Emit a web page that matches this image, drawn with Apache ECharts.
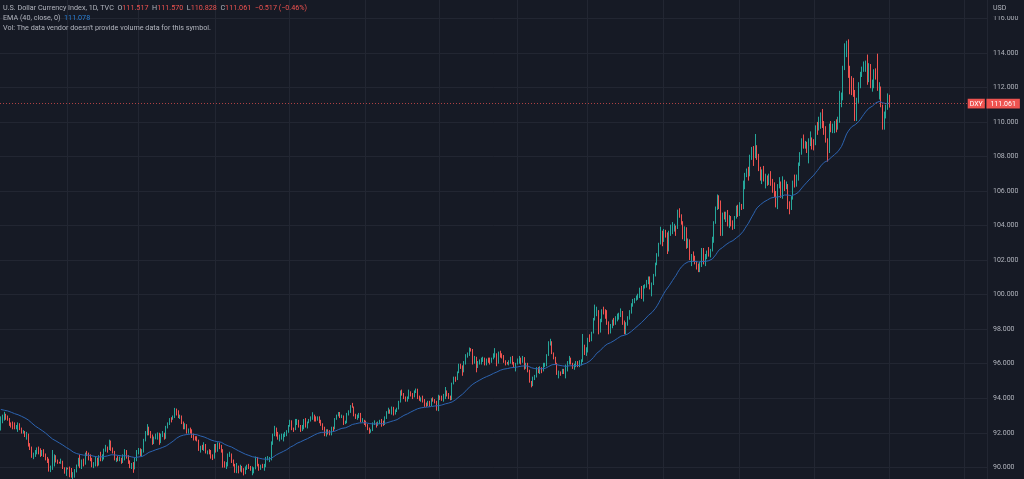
<!DOCTYPE html>
<html>
<head>
<meta charset="utf-8">
<title>DXY 1D</title>
<script src="https://cdn.jsdelivr.net/npm/echarts@6.0.0/dist/echarts.min.js"></script>
<style>
html,body{margin:0;padding:0;background:#161a25;}
#chart{width:1024px;height:479px;}
</style>
</head>
<body>
<div id="chart"></div>
<script>
// daily candles, [open, high, low, close], one row per weekday from 2020-11-09
const bars2020 = [
  [92.23,92.95,92.13,92.73],[92.73,93.05,92.55,92.75],[92.75,93.21,92.70,93.00],[93.00,93.10,92.75,92.97],[92.97,93.00,92.70,92.76],
  [92.76,92.85,92.40,92.53],[92.53,92.60,92.30,92.45],[92.45,92.65,92.20,92.32],[92.32,92.60,92.20,92.28],[92.28,92.45,92.20,92.39],
  [92.39,92.60,92.05,92.50],[92.50,92.55,92.15,92.23],[92.23,92.30,91.95,92.00],[92.00,92.15,91.95,92.08],[92.08,92.10,91.75,91.80],
  [91.80,92.05,91.60,91.87],[91.87,91.95,91.20,91.30],[91.30,91.40,91.00,91.12],[91.12,91.20,90.55,90.70],[90.70,90.85,90.47,90.70],
  [90.70,91.00,90.60,90.80],[90.80,91.15,90.75,91.05],[91.05,91.20,90.75,90.95],[90.95,91.10,90.60,90.78],[90.78,91.00,90.65,90.98],
  [90.98,91.05,90.60,90.72],[90.72,90.80,90.40,90.48],[90.48,90.60,90.25,90.45],[90.45,90.50,89.75,89.82],[89.82,90.10,89.72,90.02],
  [90.02,91.00,89.85,90.10],[90.10,90.75,90.05,90.62],[90.62,90.70,90.28,90.35],[90.35,90.45,90.20,90.27],[90.27,90.32,90.22,90.25],
  [90.25,90.50,90.20,90.33],[90.33,90.38,89.90,89.97],[89.97,90.00,89.63,89.70],[89.70,90.00,89.50,89.94]
];
const bars2021 = [
  [89.94,89.98,89.88,89.93],
  [89.93,90.04,89.42,89.88],[89.88,89.96,89.40,89.43],[89.43,89.72,89.21,89.53],[89.53,89.90,89.40,89.83],[89.83,90.16,89.70,90.10],
  [90.10,90.55,90.05,90.51],[90.51,90.73,89.95,90.09],[90.09,90.45,89.90,90.37],[90.37,90.50,90.05,90.23],[90.23,90.85,90.15,90.77],
  [90.77,90.95,90.65,90.75],[90.75,90.85,90.40,90.52],[90.52,90.75,90.35,90.48],[90.48,90.55,90.00,90.10],[90.10,90.30,89.95,90.24],
  [90.24,90.60,90.05,90.38],[90.38,90.55,90.05,90.17],[90.17,90.70,90.10,90.65],[90.65,90.90,90.35,90.48],[90.48,90.75,90.35,90.58],
  [90.58,91.08,90.45,91.00],[91.00,91.30,90.90,91.12],[91.12,91.20,90.85,91.08],[91.08,91.60,91.00,91.53],[91.53,91.55,90.95,91.03],
  [91.03,91.15,90.80,90.93],[90.93,90.95,90.40,90.42],[90.42,90.55,90.30,90.43],[90.43,90.65,90.35,90.42],[90.42,90.62,90.35,90.48],
  [90.48,90.55,90.20,90.35],[90.35,90.75,90.25,90.50],[90.50,91.05,90.40,90.92],[90.92,91.00,90.50,90.58],[90.58,90.70,90.20,90.35],
  [90.35,90.40,89.95,90.12],[90.12,90.25,89.90,90.13],[90.13,90.30,89.68,89.98],[89.98,90.55,89.88,90.45],[90.45,91.00,90.35,90.88],
  [90.88,91.12,90.75,91.02],[91.02,91.10,90.65,90.80],[90.80,91.05,90.60,90.92],[90.92,91.65,90.85,91.60],[91.60,92.10,91.50,91.92],
  [91.92,92.50,91.85,92.34],[92.34,92.35,91.85,91.95],[91.95,92.10,91.68,91.82],[91.82,91.90,91.30,91.42],[91.42,91.78,91.35,91.67],
  [91.67,91.95,91.62,91.85],[91.85,92.02,91.60,91.90],[91.90,92.00,91.30,91.45],[91.45,91.95,91.40,91.85],[91.85,92.10,91.75,91.92],
  [91.92,92.00,91.60,91.70],[91.70,92.40,91.65,92.33],[92.33,92.60,92.25,92.52],[92.52,92.85,92.45,92.78],[92.78,92.90,92.60,92.75],
  [92.75,93.00,92.75,92.93],[92.93,93.44,92.85,93.30],[93.30,93.40,93.00,93.23],[93.23,93.30,92.85,92.93],[92.93,93.05,92.80,92.98],
  [92.98,93.00,92.50,92.60],[92.60,92.65,92.20,92.32],[92.32,92.55,92.20,92.45],[92.45,92.50,91.95,92.05],[92.05,92.25,91.95,92.16],
  [92.16,92.30,91.95,92.13],[92.13,92.20,91.70,91.85],[91.85,91.95,91.55,91.70],[91.70,91.80,91.55,91.66],[91.66,91.80,91.50,91.55],
  [91.55,91.60,90.95,91.05],[91.05,91.25,90.85,91.22],[91.22,91.30,91.00,91.18],[91.18,91.45,90.95,91.30],[91.30,91.35,90.80,90.85],
  [90.85,90.98,90.75,90.87],[90.87,91.05,90.75,90.81],[90.81,91.00,90.50,90.62],[90.62,90.75,90.42,90.58],[90.58,91.35,90.50,91.28],
  [91.28,91.35,90.85,90.96],[90.96,91.45,90.90,91.30],[91.30,91.43,91.05,91.28],[91.28,91.30,90.85,90.98],[90.98,91.05,89.98,90.22],
  [90.22,90.35,89.98,90.10],[90.10,90.30,89.90,90.12],[90.12,90.80,90.05,90.72],[90.72,90.90,90.60,90.75],[90.75,90.80,90.25,90.32],
  [90.32,90.45,90.05,90.18],[90.18,90.20,89.68,89.82],[89.82,90.25,89.66,90.08],[90.08,90.10,89.65,89.78],[89.78,90.15,89.75,90.02],
  [90.02,90.08,89.70,89.82],[89.82,89.95,89.53,89.66],[89.66,90.05,89.60,89.98],[89.98,90.15,89.85,90.05],[90.05,90.20,89.90,90.03],
  [90.03,90.08,89.80,89.88],[89.88,90.05,89.54,89.90],[89.90,90.00,89.65,89.92],[89.92,90.62,89.88,90.52],[90.52,90.60,90.05,90.13],
  [90.13,90.20,89.80,90.00],[90.00,90.15,89.85,90.10],[90.10,90.20,89.95,90.07],[90.07,90.20,89.80,90.08],[90.08,90.60,90.00,90.52],
  [90.52,90.65,90.40,90.52],[90.52,90.60,90.30,90.53],[90.53,91.50,90.40,91.40],[91.40,91.95,91.30,91.90],[91.90,92.40,91.80,92.22],
  [92.22,92.30,91.78,91.90],[91.90,92.05,91.60,91.75],[91.75,91.90,91.50,91.80],[91.80,91.95,91.60,91.82],[91.82,91.95,91.50,91.85],
  [91.85,92.05,91.75,91.90],[91.90,92.15,91.80,92.05],[92.05,92.45,92.00,92.43],[92.43,92.75,92.35,92.56],[92.56,92.72,92.15,92.23],
  [92.23,92.30,92.05,92.22],[92.22,92.80,92.15,92.57],[92.57,92.80,92.45,92.65],[92.65,92.75,92.30,92.40],[92.40,92.45,92.05,92.12],
  [92.12,92.45,92.10,92.25],[92.25,92.80,92.20,92.75],[92.75,92.85,92.30,92.38],[92.38,92.65,92.25,92.58],[92.58,92.80,92.55,92.70],
  [92.70,92.95,92.65,92.85],[92.85,93.19,92.75,92.95],[92.95,93.05,92.65,92.80],[92.80,92.95,92.65,92.78],[92.78,92.95,92.70,92.90],
  [92.90,92.95,92.55,92.65],[92.65,92.75,92.40,92.48],[92.48,92.55,92.15,92.30],[92.30,92.35,91.80,91.90],[91.90,92.20,91.78,92.17],
  [92.17,92.20,91.90,92.05],[92.05,92.15,91.85,92.03],[92.03,92.35,91.85,92.28],[92.28,92.35,92.05,92.25],[92.25,92.85,92.20,92.80],
  [92.80,93.05,92.75,93.02],[93.02,93.20,92.95,93.05],[93.05,93.20,92.85,92.92],[92.92,93.05,92.85,92.97],[92.97,93.00,92.45,92.53],
  [92.53,92.70,92.50,92.62],[92.62,93.15,92.55,93.10],[93.10,93.30,93.00,93.21],[93.21,93.60,93.15,93.55],[93.55,93.73,93.45,93.50],
  [93.50,93.52,92.95,93.00],[93.00,93.10,92.80,92.88],[92.88,93.05,92.75,92.95],[92.95,93.15,92.85,93.05],[93.05,93.15,92.60,92.65],
  [92.65,92.85,92.60,92.68],[92.68,92.75,92.45,92.63],[92.63,92.70,92.35,92.45],[92.45,92.50,92.15,92.22],[92.22,92.30,91.94,92.05],
  [92.05,92.20,92.00,92.13],[92.13,92.60,92.10,92.52],[92.52,92.72,92.45,92.55],[92.55,92.60,92.30,92.48],[92.48,92.65,92.40,92.58],
  [92.58,92.75,92.50,92.65],[92.65,92.80,92.35,92.60],[92.60,92.70,92.40,92.50],[92.50,92.95,92.45,92.85],[92.85,93.25,92.80,93.20],
  [93.20,93.45,93.10,93.25],[93.25,93.35,93.10,93.22],[93.22,93.52,93.05,93.45],[93.45,93.50,93.00,93.12],[93.12,93.35,93.05,93.30],
  [93.30,93.45,93.20,93.40],[93.40,93.85,93.35,93.80],[93.80,94.45,93.75,94.35],[94.35,94.50,94.15,94.23],[94.23,94.30,93.95,94.05],
  [94.05,94.10,93.80,93.85],[93.85,94.10,93.80,94.00],[94.00,94.50,93.95,94.25],[94.25,94.40,94.10,94.22],[94.22,94.30,93.95,94.10],
  [94.10,94.45,94.05,94.35],[94.35,94.56,94.30,94.50],[94.50,94.55,93.95,94.05],[94.05,94.15,93.85,93.95],[93.95,94.05,93.80,93.96],
  [93.96,94.15,93.75,93.90],[93.90,93.95,93.50,93.60],[93.60,93.75,93.50,93.58],[93.58,93.85,93.55,93.80],[93.80,93.85,93.50,93.60],
  [93.60,94.00,93.55,93.95],[93.95,94.05,93.80,93.90],[93.90,93.95,93.70,93.80],[93.80,93.85,93.28,93.32],[93.32,94.20,93.25,94.12],
  [94.12,94.15,93.90,94.05],[94.05,94.15,93.85,93.90],[93.90,94.25,93.80,94.20],[94.20,94.65,93.95,94.40],[94.40,94.45,94.10,94.28],
  [94.28,94.30,93.95,94.05],[94.05,94.15,93.88,93.95],[93.95,94.90,93.90,94.85],[94.85,95.25,94.80,95.15],[95.15,95.25,94.95,95.12],
  [95.12,95.55,95.05,95.50],[95.50,96.00,95.45,95.85],[95.85,96.00,95.70,95.80],[95.80,95.90,95.30,95.55],[95.55,96.15,95.50,96.05],
  [96.05,96.55,95.95,96.50],[96.50,96.65,96.35,96.50],[96.50,96.94,96.45,96.85],[96.85,96.90,96.70,96.80],[96.80,96.85,95.95,96.05],
  [96.05,96.45,96.00,96.35],[96.35,96.40,95.50,95.95],[95.95,96.15,95.75,96.05],[96.05,96.25,95.95,96.15],[96.15,96.35,95.95,96.18],
  [96.18,96.40,96.10,96.28],[96.28,96.35,95.90,96.00],[96.00,96.30,95.90,96.20],[96.20,96.35,96.05,96.15],[96.15,96.35,95.95,96.10],
  [96.10,96.35,96.05,96.30],[96.30,96.60,96.25,96.55],[96.55,96.90,96.35,96.58],[96.58,96.60,95.85,96.05],[96.05,96.70,96.00,96.65],
  [96.65,96.75,96.35,96.50],[96.50,96.60,96.30,96.48],[96.48,96.50,96.05,96.10],[96.10,96.20,95.90,96.02],[96.02,96.10,95.95,96.00],
  [96.00,96.20,95.90,96.08],[96.08,96.40,96.00,96.35],[96.35,96.45,95.95,96.05],[96.05,96.10,95.80,95.92],[95.92,96.05,95.55,95.97]
];
const bars2022 = [
  [95.97,96.30,95.95,96.22],[96.22,96.45,96.00,96.28],[96.28,96.35,95.95,96.18],[96.18,96.45,96.05,96.35],[96.35,96.38,95.65,95.75],
  [95.75,96.05,95.70,95.98],[95.98,96.05,95.50,95.60],[95.60,95.65,94.90,94.95],[94.95,95.00,94.63,94.78],[94.78,95.25,94.70,95.18],
  [95.18,95.35,95.05,95.25],[95.25,95.80,95.20,95.75],[95.75,95.80,95.45,95.52],[95.52,95.85,95.40,95.75],[95.75,95.80,95.45,95.62],
  [95.62,96.05,95.55,95.92],[95.92,96.05,95.80,95.95],[95.95,96.55,95.85,96.48],[96.48,97.30,96.45,97.25],[97.25,97.44,97.05,97.26],
  [97.26,97.30,96.55,96.58],[96.58,96.65,96.25,96.35],[96.35,96.40,95.95,96.02],[96.02,96.05,95.35,95.38],[95.38,95.60,95.15,95.48],
  [95.48,95.55,95.30,95.45],[95.45,95.70,95.40,95.62],[95.62,95.70,95.40,95.50],[95.50,95.95,95.15,95.60],[95.60,96.15,95.55,96.05],
  [96.05,96.45,95.95,96.30],[96.30,96.35,95.95,96.00],[96.00,96.05,95.70,95.82],[95.82,96.00,95.65,95.85],[95.85,96.15,95.80,96.05],
  [96.05,96.15,95.80,96.00],[96.00,96.20,95.80,96.02],[96.02,96.25,95.90,96.15],[96.15,97.72,96.10,97.05],[97.05,97.10,96.50,96.60],
  [96.60,96.95,96.45,96.70],[96.70,97.50,96.65,97.40],[97.40,97.70,97.25,97.38],[97.38,97.85,97.30,97.78],[97.78,98.65,97.75,98.60],
  [98.60,99.42,98.50,99.00],[99.00,99.30,98.75,99.05],[99.05,99.10,97.70,97.95],[97.95,98.60,97.80,98.50],[98.50,99.15,98.40,99.10],
  [99.10,99.30,98.85,99.00],[99.00,99.15,98.60,98.80],[98.80,99.10,98.25,98.40],[98.40,98.45,97.70,97.85],[97.85,98.30,97.75,98.20],
  [98.20,98.55,98.05,98.50],[98.50,98.65,98.20,98.35],[98.35,98.75,98.25,98.65],[98.65,98.90,98.45,98.80],[98.80,98.95,98.55,98.80],
  [98.80,99.20,98.70,98.95],[98.95,99.05,98.25,98.40],[98.40,98.50,97.70,97.80],[97.80,98.40,97.68,98.30],[98.30,98.75,98.20,98.60],
  [98.60,99.10,98.55,99.00],[99.00,99.50,98.90,99.45],[99.45,99.75,99.30,99.60],[99.60,99.80,99.50,99.75],[99.75,99.95,99.65,99.80],
  [99.80,100.05,99.70,99.90],[99.90,100.40,99.80,100.30],[100.30,100.50,99.75,99.80],[99.80,100.55,99.60,100.50],[100.50,100.60,100.35,100.50],
  [100.50,100.85,100.40,100.70],[100.70,101.05,100.60,101.00],[101.00,101.05,100.30,100.40],[100.40,100.70,99.90,100.60],[100.60,101.20,100.55,101.15],
  [101.15,101.85,101.05,101.75],[101.75,102.40,101.70,102.30],[102.30,103.00,102.20,102.95],[102.95,103.93,102.90,103.60],[103.60,103.70,102.80,103.20],
  [103.20,103.80,103.05,103.70],[103.70,103.75,103.30,103.45],[103.45,103.60,102.35,102.55],[102.55,103.70,102.50,103.55],[103.55,104.05,103.40,103.65],
  [103.65,104.20,103.50,103.90],[103.90,104.10,103.65,103.90],[103.90,104.00,103.40,103.85],[103.85,104.92,103.80,104.85],[104.85,105.00,104.45,104.55],
  [104.55,104.65,104.05,104.20],[104.20,104.25,103.20,103.35],[103.35,103.95,103.10,103.85],[103.85,103.90,102.65,102.85],[102.85,103.25,102.70,103.15],
  [103.15,103.20,102.00,102.10],[102.10,102.35,101.65,102.15],[102.15,102.50,101.90,102.10],[102.10,102.25,101.75,101.82],[101.82,101.95,101.45,101.68],
  [101.68,101.80,101.30,101.45],[101.45,101.90,101.30,101.75],[101.75,102.70,101.60,102.55],[102.55,102.70,101.75,101.80],[101.80,102.35,101.65,102.15],
  [102.15,102.55,102.05,102.40],[102.40,102.75,102.20,102.35],[102.35,102.65,102.15,102.55],[102.55,103.35,102.50,103.30],[103.30,104.25,103.00,104.15],
  [104.15,105.10,104.10,105.05],[105.05,105.80,104.90,105.50],[105.50,105.75,104.95,105.20],[105.20,105.45,103.40,103.45],[103.45,104.75,103.40,104.65],
  [104.65,104.80,104.35,104.45],[104.45,104.80,104.20,104.45],[104.45,104.90,103.95,104.20],[104.20,104.60,103.85,104.40],[104.40,104.55,103.95,104.20],
  [104.20,104.30,103.75,103.95],[103.95,104.55,103.80,104.50],[104.50,105.15,104.40,105.10],[105.10,105.20,104.50,104.70],[104.70,105.35,104.55,105.15],
  [105.15,105.25,104.90,105.10],[105.10,106.60,104.95,106.50],[106.50,107.05,106.10,107.00],[107.00,107.30,106.80,107.05],[107.05,107.40,106.60,106.90],
  [106.90,108.10,106.85,108.05],[108.05,108.55,107.80,108.10],[108.10,108.60,107.45,108.00],[108.00,109.30,107.90,108.60],[108.60,108.65,107.80,108.05],
  [108.05,108.15,107.15,107.30],[107.30,107.40,106.60,106.70],[106.70,107.25,106.40,107.10],[107.10,107.45,106.55,106.60],[106.60,107.00,106.15,106.70],
  [106.70,106.90,106.30,106.45],[106.45,107.00,106.35,106.90],[106.90,107.15,106.30,106.40],[106.40,106.70,105.90,106.25],[106.25,106.50,105.65,105.90],
  [105.90,106.00,105.05,105.35],[105.35,106.40,104.95,106.25],[106.25,106.80,106.15,106.50],[106.50,106.55,105.60,105.70],[105.70,106.85,105.55,106.60],
  [106.60,106.65,106.00,106.35],[106.35,106.55,106.10,106.35],[106.35,106.40,104.95,105.15],[105.15,105.40,104.65,105.10],[105.10,105.70,104.90,105.60],
  [105.60,106.60,105.50,106.50],[106.50,106.95,106.20,106.45],[106.45,106.95,106.25,106.70],[106.70,107.65,106.60,107.55],[107.55,108.25,107.45,108.15],
  [108.15,109.05,108.10,108.95],[108.95,109.27,108.45,108.60],[108.60,108.90,108.45,108.60],[108.60,108.85,108.20,108.55],[108.55,109.05,107.60,108.80],
  [108.80,109.45,108.60,108.80],[108.80,109.10,108.40,108.75],[108.75,109.00,108.35,108.70],[108.70,109.80,108.65,109.70],[109.70,110.00,109.25,109.55],
  [109.55,110.30,109.50,109.85],[109.85,110.55,109.60,110.25],[110.25,110.75,109.65,109.70],[109.70,110.05,109.25,109.65],[109.65,109.75,108.80,109.00],
  [109.00,109.05,107.70,108.25],[108.25,109.90,108.20,109.80],[109.80,110.05,109.40,109.60],[109.60,109.90,109.35,109.70],[109.70,110.05,109.35,109.75],
  [109.75,110.15,109.40,109.70],[109.70,110.30,109.55,110.20],[110.20,111.80,109.95,111.30],[111.30,111.70,110.85,111.35],[111.35,113.25,111.25,113.20],
  [113.20,114.55,113.00,114.10],[114.10,114.70,113.75,114.15],[114.15,114.78,112.55,112.60],[112.60,113.25,111.60,112.20],[112.20,112.65,111.55,112.10],
  [112.10,112.55,111.45,111.80],[111.80,111.85,110.05,110.20],[110.20,111.40,110.05,111.20],[111.20,112.30,111.10,112.20],[112.20,112.90,111.95,112.80],
  [112.80,113.20,112.60,113.10],[113.10,113.50,112.90,113.20],[113.20,113.55,112.90,113.25],[113.25,113.90,112.15,112.40],[112.40,113.40,112.30,113.30],
  [113.30,113.35,111.95,112.05],[112.05,112.45,111.75,112.10],[112.10,113.05,111.95,112.95],[112.95,113.10,112.45,112.85],[112.85,113.95,111.80,111.90],
  [111.90,112.30,111.30,112.00],[112.00,112.05,110.85,110.95],[110.95,111.00,109.55,109.70],[109.70,110.60,109.55,110.55],[110.55,111.00,110.20,110.75],
  [110.75,111.65,110.70,111.578],[111.517,111.570,110.828,111.061]
];
const firstDay = '2020-11-09';
const rightPadBars = 56;          // empty space right of the last candle
const emaLength = 40;
const emaSeed = 93.35;            // EMA value at the first visible candle
const emaLast = '111.078';
const yTicks = {min: 88, max: 118, step: 2};
const symbolLine = 'U.S. Dollar Currency Index, 1D, TVC';
const volNote = "Vol: The data vendor doesn't provide volume data for this symbol.";

const bg = '#161a25';
const upColor = '#26a69a';
const downColor = '#ef5350';
const textColor = '#b2b5be';
const font = 'Roboto, "Liberation Sans", sans-serif';

const bars = bars2020.concat(bars2021, bars2022);
const closes = bars.map(b => b[3]);

// weekday categories, including the empty bars on the right
const cats = [];
const d = new Date(firstDay + 'T00:00:00Z');
while (cats.length < bars.length + rightPadBars) {
    const wd = d.getUTCDay();
    if (wd !== 0 && wd !== 6) cats.push(d.toISOString().slice(0, 10));
    d.setUTCDate(d.getUTCDate() + 1);
}

const k = 2 / (emaLength + 1);
const ema = [];
closes.forEach((c, i) => {
    const prev = i === 0 ? emaSeed : ema[i - 1];
    ema.push(i === 0 ? emaSeed : +(prev + k * (c - prev)).toFixed(3));
});

const last = bars[bars.length - 1];
const prevClose = bars[bars.length - 2][3];
const chg = last[3] - prevClose;
const pct = chg / prevClose * 100;
const fmt = v => v.toFixed(3);
const signed = (v, n) => (v < 0 ? '\u2212' : '+') + Math.abs(v).toFixed(n);

const chart = echarts.init(document.getElementById('chart'));
const rich = {
    t: {color: textColor, fontSize: 7.2, fontFamily: font},
    r: {color: downColor, fontSize: 7.2, fontFamily: font},
    b: {color: '#2a7fd4', fontSize: 7.2, fontFamily: font}
};
chart.setOption({
    animation: false,
    backgroundColor: bg,
    title: [
        {
            left: 3, top: 5, padding: 0,
            text: '{t|' + symbolLine + '}  {t|O}{r|' + fmt(last[0]) + '}  {t|H}{r|' + fmt(last[1]) +
                '}  {t|L}{r|' + fmt(last[2]) + '}  {t|C}{r|' + fmt(last[3]) + '}  {r|' + signed(chg, 3) +
                ' (' + signed(pct, 2) + '%)}',
            textStyle: {fontSize: 7.2, fontWeight: 'normal', color: textColor, fontFamily: font, rich: rich}
        },
        {
            left: 3, top: 15, padding: 0,
            text: '{t|EMA (' + emaLength + ', close, 0)}  {b|' + emaLast + '}',
            textStyle: {fontSize: 7.2, fontWeight: 'normal', color: textColor, fontFamily: font, rich: rich}
        },
        {
            left: 3, top: 25, padding: 0,
            text: volNote,
            textStyle: {fontSize: 7.2, fontWeight: 'normal', color: textColor, fontFamily: font}
        },
        {
            left: 993, top: 5, padding: 0, z: 60,
            text: 'USD',
            textStyle: {fontSize: 7, fontWeight: 'normal', color: textColor, fontFamily: font}
        }
    ],
    graphic: [{
        type: 'rect', z: 50,
        shape: {x: 988, y: 0, width: 36, height: 16},
        style: {fill: bg}
    }],
    grid: {
        left: 0, right: 37, top: -16.26, bottom: -22.84,
        containLabel: false,
        outerBoundsMode: 'none'
    },
    xAxis: {
        type: 'category',
        data: cats,
        boundaryGap: true,
        axisLine: {show: false},
        axisTick: {show: false},
        axisLabel: {show: false},
        splitLine: {
            show: true,
            interval: (idx, val) => {
                if (idx === 0) return false;
                const m = +val.slice(5, 7);
                return m % 2 === 1 && m !== +cats[idx - 1].slice(5, 7);
            },
            lineStyle: {color: '#222632', width: 1}
        }
    },
    yAxis: {
        type: 'value',
        position: 'right',
        min: yTicks.min,
        max: yTicks.max,
        interval: yTicks.step,
        axisLine: {show: false},
        axisTick: {show: false},
        axisLabel: {
            color: textColor, fontSize: 7, fontFamily: font, margin: 6,
            formatter: v => v.toFixed(3)
        },
        splitLine: {lineStyle: {color: '#222632', width: 1}}
    },
    series: [
        {
            type: 'candlestick',
            data: bars.map(b => [b[0], b[3], b[2], b[1]]),
            barWidth: 1.2,
            itemStyle: {
                color: upColor, color0: downColor,
                borderColor: upColor, borderColor0: downColor,
                borderWidth: 1
            },
            markLine: {
                silent: true,
                symbol: ['none', 'none'],
                data: [{yAxis: last[3]}],
                lineStyle: {color: 'rgba(239,83,80,0.7)', type: [1, 2], width: 1},
                label: {
                    show: true,
                    position: 'end',
                    distance: 0,
                    offset: [-19.3, 0],
                    formatter: '{a|DXY}{g|}{v|' + fmt(last[3]) + '}',
                    rich: {
                        a: {backgroundColor: downColor, color: '#fff', fontSize: 7, fontFamily: font,
                            padding: [1, 2, 0, 2], lineHeight: 8.7, height: 8.7},
                        g: {width: 1.6, height: 8.7},
                        v: {backgroundColor: downColor, color: '#fff', fontSize: 7, fontFamily: font,
                            padding: [1, 4, 0, 4], lineHeight: 8.7, height: 8.7}
                    }
                }
            }
        },
        {
            type: 'line',
            data: ema,
            showSymbol: false,
            symbol: 'none',
            lineStyle: {color: '#2c63b0', width: 1},
            z: 3
        }
    ]
});
</script>
</body>
</html>
